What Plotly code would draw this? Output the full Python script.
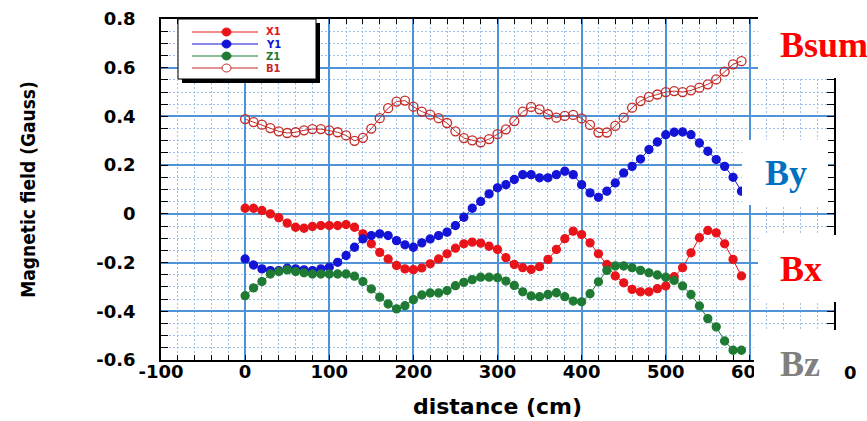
import plotly.graph_objects as go

# ---------------- data ----------------
distance = [0, 10, 20, 30, 40, 50, 60, 70, 80, 90,
            100, 110, 120, 130, 140, 150, 160, 170, 180, 190,
            200, 210, 220, 230, 240, 250, 260, 270, 280, 290,
            300, 310, 320, 330, 340, 350, 360, 370, 380, 390,
            400, 410, 420, 430, 440, 450, 460, 470, 480, 490,
            500, 510, 520, 530, 540, 550, 560, 570, 580, 590]

x1 = [0.023, 0.023, 0.014, 0.000, -0.016, -0.038, -0.055, -0.059, -0.052, -0.048,
      -0.048, -0.048, -0.044, -0.055, -0.082, -0.123, -0.158, -0.185, -0.212, -0.226,
      -0.229, -0.222, -0.205, -0.185, -0.164, -0.141, -0.123, -0.116, -0.120, -0.133,
      -0.146, -0.180, -0.208, -0.221, -0.228, -0.217, -0.187, -0.146, -0.102, -0.071,
      -0.085, -0.119, -0.164, -0.208, -0.255, -0.283, -0.310, -0.320, -0.320, -0.307,
      -0.296, -0.258, -0.221, -0.160, -0.098, -0.068, -0.078, -0.123, -0.187, -0.255]

y1 = [-0.185, -0.210, -0.226, -0.233, -0.233, -0.223, -0.226, -0.230, -0.233, -0.226,
      -0.219, -0.199, -0.171, -0.137, -0.103, -0.089, -0.082, -0.089, -0.110, -0.127,
      -0.137, -0.119, -0.103, -0.089, -0.075, -0.048, -0.014, 0.023, 0.051, 0.082,
      0.107, 0.120, 0.141, 0.161, 0.161, 0.148, 0.148, 0.161, 0.175, 0.161,
      0.120, 0.086, 0.068, 0.093, 0.127, 0.168, 0.195, 0.225, 0.264, 0.295,
      0.325, 0.335, 0.336, 0.325, 0.291, 0.257, 0.223, 0.195, 0.150, 0.093]

z1 = [-0.336, -0.304, -0.278, -0.247, -0.237, -0.230, -0.237, -0.242, -0.247, -0.247,
      -0.247, -0.247, -0.247, -0.256, -0.278, -0.308, -0.342, -0.370, -0.390, -0.377,
      -0.352, -0.333, -0.325, -0.325, -0.315, -0.295, -0.281, -0.270, -0.260, -0.260,
      -0.262, -0.276, -0.294, -0.320, -0.337, -0.340, -0.331, -0.324, -0.340, -0.358,
      -0.361, -0.328, -0.279, -0.232, -0.214, -0.214, -0.221, -0.232, -0.242, -0.251,
      -0.260, -0.273, -0.296, -0.331, -0.378, -0.430, -0.464, -0.522, -0.560, -0.560]

b1 = [0.389, 0.377, 0.366, 0.352, 0.339, 0.332, 0.335, 0.343, 0.348, 0.348,
      0.343, 0.335, 0.322, 0.300, 0.312, 0.350, 0.393, 0.434, 0.461, 0.465,
      0.440, 0.420, 0.407, 0.393, 0.373, 0.339, 0.311, 0.302, 0.294, 0.307,
      0.327, 0.347, 0.381, 0.420, 0.439, 0.429, 0.409, 0.395, 0.402, 0.406,
      0.392, 0.365, 0.334, 0.334, 0.361, 0.395, 0.436, 0.463, 0.480, 0.490,
      0.500, 0.504, 0.500, 0.507, 0.518, 0.532, 0.552, 0.584, 0.614, 0.627]

series_names = ["X1", "Y1", "Z1", "B1"]
x_tickvals = [-100, 0, 100, 200, 300, 400, 500, 600]
x_ticktext = ["-100", "0", "100", "200", "300", "400", "500", "600"]
y_tickvals = [-0.6, -0.4, -0.2, 0, 0.2, 0.4, 0.6, 0.8]
y_ticktext = ["-0.6", "-0.4", "-0.2", "0", "0.2", "0.4", "0.6", "0.8"]
side_labels = ["Bsum", "By", "Bx", "Bz"]
partial_tick_text = "0"   # visible remainder of the "700" label at the far right

# ---------------- styling ----------------
W, H = 867, 421
L, R, T, B = 161, 834, 19, 360
RED = "#e8141a"
BLUE = "#1414d6"
GREEN = "#1f7a34"
DARKRED = "#c42a26"
MAJOR_GRID = "#4f93d8"
MINOR_GRID = "#9fc3ec"


def px(x):
    return (x - L) / (R - L)


def py(y):
    return (B - y) / (B - T)


fig = go.Figure()
styles = [
    (x1, RED, "circle", 8),
    (y1, BLUE, "circle", 8),
    (z1, GREEN, "circle", 8),
    (b1, DARKRED, "circle-open", 9),
]
for name, (vals, col, sym, size) in zip(series_names, styles):
    fig.add_trace(go.Scatter(
        x=distance, y=vals, name=name, mode="lines+markers",
        line=dict(color=col, width=1),
        marker=dict(color=col, symbol=sym, size=size, line=dict(color=col, width=1.3)),
        showlegend=False,
    ))

tick_font = dict(family="DejaVu Sans", size=18, color="black", weight="bold")

fig.update_xaxes(
    range=[-100, 700], tickvals=x_tickvals, ticktext=x_ticktext,
    showline=True, linecolor="black", linewidth=1.5, mirror="ticks",
    ticks="inside", ticklen=5, tickcolor="black", tickwidth=1,
    showgrid=True, gridcolor=MAJOR_GRID, gridwidth=1.5,
    zeroline=False, tickfont=tick_font, ticklabelstandoff=-5,
    minor=dict(dtick=20, ticks="inside", ticklen=5, tickcolor="black",
               showgrid=True, gridcolor=MINOR_GRID, griddash="2px,2px", gridwidth=1),
    title=dict(text="distance (cm)", standoff=17,
               font=dict(family="DejaVu Sans", size=22, color="black", weight="bold")),
)
fig.update_yaxes(
    range=[-0.6, 0.8], tickvals=y_tickvals, ticktext=y_ticktext,
    showline=True, linecolor="black", linewidth=1.5, mirror="ticks",
    ticks="inside", ticklen=7, tickcolor="black", tickwidth=1,
    showgrid=True, gridcolor=MAJOR_GRID, gridwidth=1.5,
    zeroline=False, tickfont=tick_font, ticklabelstandoff=20,
    minor=dict(dtick=0.05, ticks="inside", ticklen=7, tickcolor="black",
               showgrid=True, gridcolor=MINOR_GRID, griddash="2px,2px", gridwidth=1),
    title=dict(text="Magnetic field (Gauss)", standoff=56,
               font=dict(family="DejaVu Sans Condensed, sans-serif",
                         size=19, color="black", weight="bold")),
)


def rect(x0, y0, x1_, y1_, fill, line_col=None, lw=0):
    return dict(type="rect", xref="paper", yref="paper", layer="above",
                x0=px(x0), x1=px(x1_), y0=py(y1_), y1=py(y0),
                fillcolor=fill, line=dict(color=line_col or fill, width=lw))


shapes = [
    rect(758, -5, 872, 78, "white"),      # Bsum cover
    rect(742, 140, 828, 205, "white"),    # By cover
    rect(758, 235, 857, 302, "white"),    # Bx cover
    rect(754, 330, 842, 405, "white"),    # Bz cover
    rect(182, 23, 320, 83, "black"),      # legend shadow
    rect(178, 19, 316, 79, "white", "black", 1),  # legend box
]

legend_rows = [32, 44, 56, 68]
leg_cols = [RED, BLUE, GREEN, DARKRED]
annotations = []
for name, yy, col in zip(series_names, legend_rows, leg_cols):
    shapes.append(dict(type="line", xref="paper", yref="paper", layer="above",
                       x0=px(192), x1=px(258), y0=py(yy), y1=py(yy),
                       line=dict(color=col, width=1)))
    filled = name != "B1"
    shapes.append(dict(type="circle", xref="paper", yref="paper", layer="above",
                       x0=px(222), x1=px(231), y0=py(yy + 4), y1=py(yy - 4),
                       fillcolor=col if filled else "white",
                       line=dict(color=col, width=1)))
    annotations.append(dict(text=name, x=px(265), y=py(yy), xref="paper", yref="paper",
                            xanchor="left", yanchor="middle", showarrow=False, borderpad=0,
                            font=dict(family="DejaVu Sans", size=10, color=col, weight="bold")))

side_pos = [(778, 45, "#ff0000"), (763, 173, "#0070c0"), (778, 269, "#ff0000"), (778, 364, "#808080")]
for txt, (sx, sy, col) in zip(side_labels, side_pos):
    annotations.append(dict(text=txt, x=px(sx), y=py(sy), xref="paper", yref="paper",
                            xanchor="left", yanchor="middle", showarrow=False,
                            font=dict(family="Liberation Serif", size=36, color=col, weight="bold")))

annotations.append(dict(text=partial_tick_text, x=px(843), y=py(372), xref="paper", yref="paper",
                        xanchor="left", yanchor="middle", showarrow=False, borderpad=0,
                        font=tick_font))

fig.update_layout(
    width=W, height=H,
    margin=dict(l=L, r=W - R, t=T, b=H - B, autoexpand=False),
    paper_bgcolor="white", plot_bgcolor="white",
    showlegend=False,
    shapes=shapes, annotations=annotations,
)

fig.write_html("out.html")
